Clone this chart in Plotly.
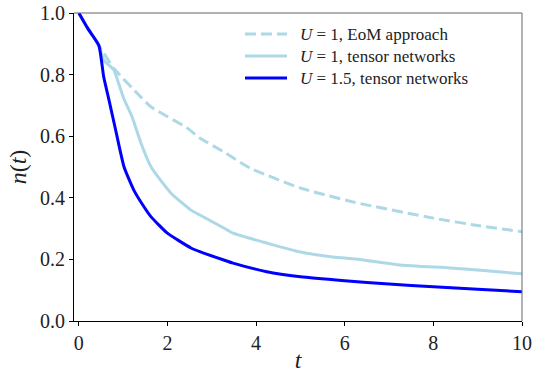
import plotly.graph_objects as go

# U = 1.5, tensor networks
t_tn15 = [0, 0.2, 0.45, 0.56, 0.68, 0.83, 1.02, 1.24, 1.45, 1.63, 1.99, 2.53, 2.73, 3.27, 3.48, 4.24, 5.0, 6.0, 7.0, 8.0, 9.0, 10]
n_tn15 = [1.0, 0.95, 0.895, 0.793, 0.717, 0.62, 0.50, 0.425, 0.375, 0.338, 0.286, 0.237, 0.225, 0.198, 0.188, 0.16, 0.144, 0.131, 0.12, 0.111, 0.103, 0.095]

# U = 1, tensor networks
t_tn1 = [0, 0.2, 0.45, 0.56, 0.79, 0.9, 1.02, 1.2, 1.4, 1.63, 2.08, 2.53, 2.73, 3.27, 3.48, 4.24, 5.0, 5.73, 6.34, 7.25, 8.37, 9.2, 10]
n_tn1 = [1.0, 0.95, 0.895, 0.847, 0.815, 0.77, 0.72, 0.663, 0.578, 0.5, 0.415, 0.36, 0.344, 0.302, 0.285, 0.253, 0.224, 0.208, 0.2, 0.182, 0.172, 0.163, 0.153]

# U = 1, EoM approach
t_eom = [0, 0.2, 0.45, 0.79, 1.4, 1.63, 2.44, 2.73, 3.27, 3.86, 4.99, 6.2, 8.0, 9.0, 10]
n_eom = [1.0, 0.95, 0.895, 0.82, 0.727, 0.695, 0.627, 0.594, 0.549, 0.497, 0.432, 0.386, 0.334, 0.31, 0.29]

x_ticks = [0, 2, 4, 6, 8, 10]
y_ticks = [0.0, 0.2, 0.4, 0.6, 0.8, 1.0]
y_tick_text = ["0.0", "0.2", "0.4", "0.6", "0.8", "1.0"]

series_names = [
    "<i>U</i> = 1, EoM approach",
    "<i>U</i> = 1, tensor networks",
    "<i>U</i> = 1.5, tensor networks",
]
LIGHT = "#add8e6"
BLUE = "#0000ff"
EOM_DASH = "11px,5px"

FONT = "Liberation Serif"
W, H = 533, 373
ML, MR, MT, MB = 74, 11, 13, 52
PW, PH = W - ML - MR, H - MT - MB

fig = go.Figure()
curve = dict(mode="lines", line_shape="spline", showlegend=False)
fig.add_trace(go.Scatter(x=t_eom, y=n_eom, name=series_names[0],
                         line=dict(color=LIGHT, width=3, dash=EOM_DASH, smoothing=0.5), **curve))
fig.add_trace(go.Scatter(x=t_tn1, y=n_tn1, name=series_names[1],
                         line=dict(color=LIGHT, width=3, smoothing=0.5), **curve))
fig.add_trace(go.Scatter(x=t_tn15, y=n_tn15, name=series_names[2],
                         line=dict(color=BLUE, width=3, smoothing=0.5), **curve))

axis_common = dict(
    showgrid=False, zeroline=False, showline=True, linecolor="black", linewidth=1,
    ticks="outside", ticklen=4, tickwidth=1, tickcolor="black", automargin=False,
    tickfont=dict(family=FONT, size=20, color="#222"),
)
fig.update_xaxes(
    range=[-0.11, 10], tickvals=x_ticks, ticktext=[str(v) for v in x_ticks],
    title=dict(text="<i>t</i>", font=dict(family=FONT, size=24, color="#222"), standoff=12),
    **axis_common,
)
fig.update_yaxes(
    range=[0, 1], tickvals=y_ticks, ticktext=y_tick_text,
    title=dict(text="<i>n</i>(<i>t</i>)", font=dict(family=FONT, size=24, color="#222"), standoff=6),
    **axis_common,
)

# top and right frame lines
fig.add_shape(type="line", xref="paper", yref="paper", x0=0, x1=1, y0=1, y1=1,
              line=dict(color="#666", width=1))
fig.add_shape(type="line", xref="paper", yref="paper", x0=1, x1=1, y0=0, y1=1,
              line=dict(color="#666", width=1))

# compact legend in the upper right (pixel layout converted to paper units)
def px_x(px):
    return (px - ML) / PW

def px_y(py):
    return (H - MB - py) / PH

LEG_SIZE = 17
row_gap = LEG_SIZE * 1.3
mid_row = 56
legend_styles = [(LIGHT, EOM_DASH), (LIGHT, "solid"), (BLUE, "solid")]
for i, (color, dash) in enumerate(legend_styles):
    row = mid_row + (i - 1) * row_gap
    fig.add_shape(type="line", xref="paper", yref="paper",
                  x0=px_x(245), x1=px_x(287), y0=px_y(row), y1=px_y(row),
                  line=dict(color=color, width=3, dash=dash))
fig.add_annotation(xref="paper", yref="paper", x=px_x(298), y=px_y(mid_row),
                   xanchor="left", yanchor="middle", align="left", showarrow=False,
                   text="<br>".join(series_names),
                   font=dict(family=FONT, size=LEG_SIZE, color="#222"))

fig.update_layout(
    width=W, height=H,
    margin=dict(l=ML, r=MR, t=MT, b=MB, autoexpand=False),
    plot_bgcolor="white", paper_bgcolor="white",
    font=dict(family=FONT, color="#222"),
    showlegend=False,
)

fig.write_html("out.html")
